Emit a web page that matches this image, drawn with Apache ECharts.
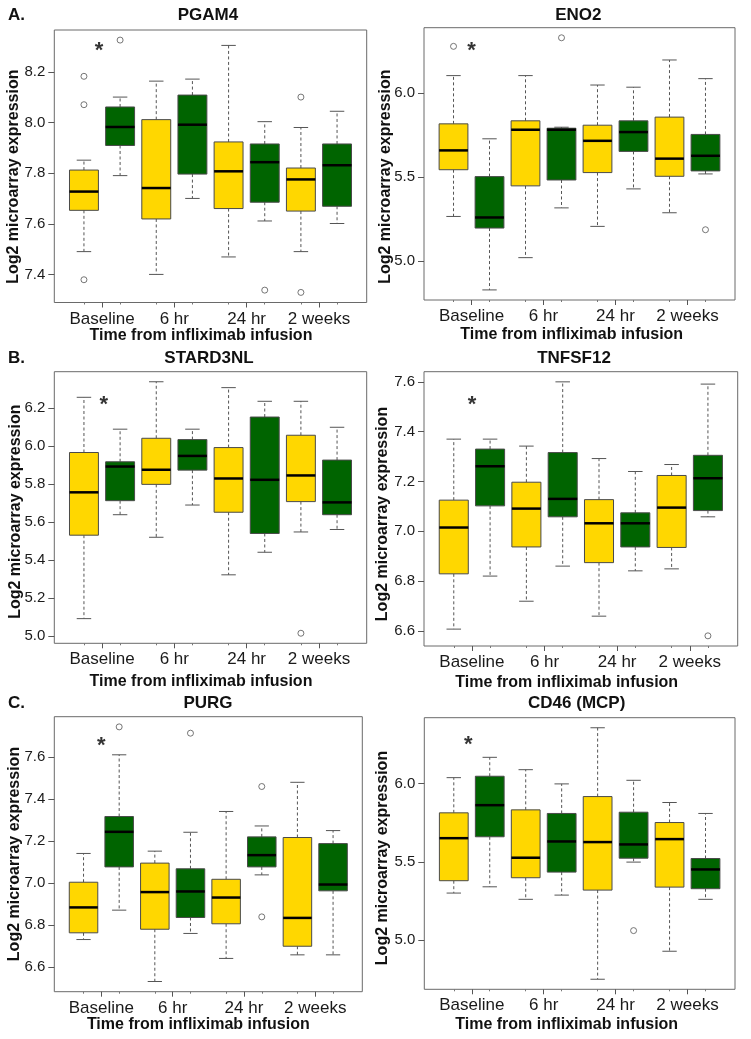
<!DOCTYPE html>
<html><head><meta charset="utf-8">
<script src="https://cdn.jsdelivr.net/npm/echarts@6/dist/echarts.min.js"></script>
<style>html,body{margin:0;padding:0;background:#fff}#c{width:751px;height:1039px}</style>
</head><body><div id="c"></div>
<script>
// ---------- DATA ----------
const timepoints = ['Baseline', '6 hr', '24 hr', '2 weeks'];
const genes = ['PGAM4', 'ENO2', 'STARD3NL', 'TNFSF12', 'PURG', 'CD46 (MCP)'];
const panelLetters = ['A.', '', 'B.', '', 'C.', ''];
const xAxisTitle = 'Time from infliximab infusion';
const yAxisTitle = 'Log2 microarray expression';

// box stats per timepoint: [lower whisker, Q1, median, Q3, upper whisker]
const PGAM4_yellow = [[7.490,7.653,7.727,7.812,7.851],[7.400,7.619,7.741,8.011,8.163],[7.469,7.660,7.807,7.923,8.304],[7.490,7.650,7.775,7.820,7.980]];
const PGAM4_green  = [[7.790,7.909,7.982,8.061,8.100],[7.700,7.796,7.991,8.108,8.171],[7.611,7.685,7.843,7.915,8.003],[7.601,7.669,7.831,7.915,8.044]];
const PGAM4_outliers = [[1,8.182],[1,8.070],[1,7.379],[2,8.325],[6,7.338],[7,8.100],[7,7.329]];
const PGAM4_star = [1.42, 8.30];
const PGAM4_ticks = [7.4, 7.6, 7.8, 8.0, 8.2];

const ENO2_yellow = [[5.267,5.545,5.660,5.818,6.105],[5.022,5.449,5.783,5.836,6.105],[5.208,5.528,5.717,5.810,6.049],[5.289,5.506,5.611,5.858,6.198]];
const ENO2_green  = [[4.830,5.198,5.261,5.504,5.729],[5.318,5.484,5.783,5.792,5.798],[5.431,5.654,5.769,5.836,6.036],[5.520,5.538,5.628,5.755,6.087]];
const ENO2_outliers = [[1,6.279],[4,6.330],[8,5.188]];
const ENO2_star = [1.5, 6.283];
const ENO2_ticks = [5.0, 5.5, 6.0];

const STARD3NL_yellow = [[5.091,5.531,5.757,5.967,6.258],[5.520,5.799,5.876,6.042,6.340],[5.322,5.652,5.830,5.993,6.309],[5.548,5.708,5.846,6.058,6.237]];
const STARD3NL_green  = [[5.639,5.713,5.893,5.918,6.090],[5.690,5.874,5.949,6.035,6.090],[5.441,5.540,5.823,6.154,6.237],[5.561,5.639,5.704,5.927,6.100]];
const STARD3NL_outliers = [[7,5.014]];
const STARD3NL_star = [1.55, 6.244];
const STARD3NL_ticks = [5.0, 5.2, 5.4, 5.6, 5.8, 6.0, 6.2];

const TNFSF12_yellow = [[6.607,6.829,7.015,7.125,7.370],[6.719,6.937,7.091,7.197,7.342],[6.659,6.874,7.032,7.127,7.292],[6.849,6.935,7.095,7.224,7.268]];
const TNFSF12_green  = [[6.820,7.102,7.261,7.330,7.370],[6.860,7.058,7.130,7.316,7.600],[6.841,6.937,7.032,7.074,7.240],[7.058,7.083,7.213,7.305,7.591]];
const TNFSF12_outliers = [[8,6.580]];
const TNFSF12_star = [1.5, 7.526];
const TNFSF12_ticks = [6.6, 6.8, 7.0, 7.2, 7.4, 7.6];

const PURG_yellow = [[6.730,6.762,6.883,7.003,7.140],[6.530,6.779,6.956,7.094,7.151],[6.640,6.805,6.930,7.017,7.340],[6.657,6.698,6.833,7.216,7.479]];
const PURG_green  = [[6.870,7.076,7.243,7.316,7.610],[6.759,6.835,6.959,7.067,7.241],[7.038,7.076,7.132,7.219,7.271],[6.657,6.962,6.992,7.187,7.249]];
const PURG_outliers = [[2,7.743],[4,7.713],[6,7.459],[6,6.838]];
const PURG_star = [1.5, 7.676];
const PURG_ticks = [6.6, 6.8, 7.0, 7.2, 7.4, 7.6];

const CD46_yellow = [[5.300,5.379,5.651,5.813,6.038],[5.260,5.398,5.526,5.832,6.089],[4.749,5.319,5.626,5.917,6.357],[4.928,5.338,5.645,5.751,5.879]];
const CD46_green  = [[5.340,5.660,5.862,6.047,6.168],[5.287,5.434,5.630,5.809,5.998],[5.498,5.523,5.611,5.817,6.021],[5.260,5.328,5.451,5.521,5.809]];
const CD46_outliers = [[6,5.060]];
const CD46_star = [1.4, 6.281];
const CD46_ticks = [5.0, 5.5, 6.0];

// ---------- LAYOUT / STYLE ----------
const panels = [
  {yellow: PGAM4_yellow, green: PGAM4_green, outliers: PGAM4_outliers, star: PGAM4_star, ticks: PGAM4_ticks},
  {yellow: ENO2_yellow, green: ENO2_green, outliers: ENO2_outliers, star: ENO2_star, ticks: ENO2_ticks},
  {yellow: STARD3NL_yellow, green: STARD3NL_green, outliers: STARD3NL_outliers, star: STARD3NL_star, ticks: STARD3NL_ticks},
  {yellow: TNFSF12_yellow, green: TNFSF12_green, outliers: TNFSF12_outliers, star: TNFSF12_star, ticks: TNFSF12_ticks},
  {yellow: PURG_yellow, green: PURG_green, outliers: PURG_outliers, star: PURG_star, ticks: PURG_ticks},
  {yellow: CD46_yellow, green: CD46_green, outliers: CD46_outliers, star: CD46_star, ticks: CD46_ticks}
];
const layout = [
  {frame:[54.3,30,366.7,302.5],    titleX:208,   titleY:15,    xTitle:[201,336],    yTitle:[13.5,176.7]},
  {frame:[424,27.7,735,300],       titleX:578.3, titleY:15,    xTitle:[571.7,335],  yTitle:[386,176.7]},
  {frame:[54.3,371.7,366.7,643.3], titleX:209,   titleY:358.3, xTitle:[201,682],    yTitle:[16,511.7]},
  {frame:[424,371.7,737.7,646],    titleX:574,   titleY:358.3, xTitle:[566.7,682.7],yTitle:[382.5,514]},
  {frame:[54.3,716.7,362.3,991.7], titleX:208,   titleY:703.3, xTitle:[198.3,1025], yTitle:[15,854]},
  {frame:[424.3,717.7,735,989.3],  titleX:576.7, titleY:703.3, xTitle:[566.7,1025], yTitle:[383,858]}
];
const FONT = '"Liberation Sans", Arial, Helvetica, sans-serif';
const YELLOW = '#FFD700';
const GREEN = '#006400';
const X_MIN = 0.18, X_MAX = 8.82;
const LABEL_POS = [1.5, 3.5, 5.5, 7.5];
const BOX_POS = [1, 2, 3, 4, 5, 6, 7, 8];

function renderBox(params, api) {
  const pos = api.value(0);
  const lo = api.value(1), q1 = api.value(2), med = api.value(3), q3 = api.value(4), hi = api.value(5);
  const fill = api.value(6) === 0 ? YELLOW : GREEN;
  const half = api.size([0.4, 0])[0];
  const cap = half / 2;
  const pLo = api.coord([pos, lo]), pQ1 = api.coord([pos, q1]), pMed = api.coord([pos, med]);
  const pQ3 = api.coord([pos, q3]), pHi = api.coord([pos, hi]);
  const x = pLo[0];
  const dash = {stroke:'#555', lineWidth:1, lineDash:[3,2.5]};
  const solid = {stroke:'#555', lineWidth:1};
  return {type:'group', children:[
    {type:'line', shape:{x1:x, y1:pQ3[1], x2:x, y2:pHi[1]}, style:dash},
    {type:'line', shape:{x1:x, y1:pQ1[1], x2:x, y2:pLo[1]}, style:dash},
    {type:'line', shape:{x1:x-cap, y1:pHi[1], x2:x+cap, y2:pHi[1]}, style:solid},
    {type:'line', shape:{x1:x-cap, y1:pLo[1], x2:x+cap, y2:pLo[1]}, style:solid},
    {type:'rect', shape:{x:x-half, y:pQ3[1], width:2*half, height:pQ1[1]-pQ3[1]}, style:{fill:fill, stroke:'#4a4a4a', lineWidth:1}},
    {type:'line', shape:{x1:x-half, y1:pMed[1], x2:x+half, y2:pMed[1]}, style:{stroke:'#000', lineWidth:2.5}}
  ]};
}

const grid = [], xAxis = [], yAxis = [], series = [], graphic = [];
panels.forEach((p, i) => {
  const L = layout[i];
  // y range like R: data range +/- 4%
  const vals = [];
  p.yellow.concat(p.green).forEach(b => vals.push(b[0], b[4]));
  p.outliers.forEach(o => vals.push(o[1]));
  const dmin = Math.min(...vals), dmax = Math.max(...vals);
  const pad = (dmax - dmin) * 0.04;

  grid.push({left:L.frame[0], top:L.frame[1], width:L.frame[2]-L.frame[0], height:L.frame[3]-L.frame[1],
    show:true, borderColor:'#6a6a6a', borderWidth:1, backgroundColor:'transparent', containLabel:false, outerBoundsMode:'none'});

  xAxis.push({type:'value', gridIndex:i, min:X_MIN, max:X_MAX,
    axisLine:{show:false}, splitLine:{show:false},
    axisTick:{show:true, customValues:LABEL_POS, length:5, lineStyle:{color:'#555'}},
    axisLabel:{show:true, customValues:LABEL_POS, margin:8, fontSize:17, fontFamily:FONT, color:'#1a1a1a',
      formatter: v => timepoints[Math.round((v - 1.5) / 2)]}
  });
  xAxis.push({type:'value', gridIndex:i, min:X_MIN, max:X_MAX, position:'bottom',
    axisLine:{show:false}, splitLine:{show:false},
    axisTick:{show:true, customValues:BOX_POS, length:2, lineStyle:{color:'#777'}},
    axisLabel:{show:false}
  });
  yAxis.push({type:'value', gridIndex:i, min:dmin - pad, max:dmax + pad,
    axisLine:{show:false}, splitLine:{show:false},
    axisTick:{show:true, customValues:p.ticks, length:6, lineStyle:{color:'#555'}},
    axisLabel:{show:true, customValues:p.ticks, margin:9, fontSize:15, fontFamily:FONT, color:'#1a1a1a',
      formatter: v => v.toFixed(1)}
  });

  const boxData = [];
  for (let t = 0; t < timepoints.length; t++) {
    boxData.push([2*t+1].concat(p.yellow[t], [0]));
    boxData.push([2*t+2].concat(p.green[t], [1]));
  }
  series.push({type:'custom', xAxisIndex:2*i, yAxisIndex:i, renderItem:renderBox, data:boxData, clip:false,
    encode:{x:0, y:[1,2,3,4,5]}, silent:true});
  series.push({type:'scatter', xAxisIndex:2*i, yAxisIndex:i, data:p.outliers, symbol:'circle', symbolSize:6,
    itemStyle:{color:'#fff', borderColor:'#555', borderWidth:1}, silent:true});
  series.push({type:'scatter', xAxisIndex:2*i, yAxisIndex:i, data:[p.star], symbolSize:1,
    itemStyle:{color:'rgba(0,0,0,0)'}, silent:true,
    label:{show:true, position:'inside', formatter:'*', fontSize:22, fontWeight:'bold', fontFamily:FONT, color:'#000', offset:[0,5]}});

  graphic.push({type:'text', x:L.titleX, y:L.titleY, style:{text:genes[i], font:'bold 17px ' + FONT, fill:'#111', align:'center', verticalAlign:'middle'}});
  if (panelLetters[i]) {
    graphic.push({type:'text', x:8, y:L.titleY, style:{text:panelLetters[i], font:'bold 17px ' + FONT, fill:'#111', align:'left', verticalAlign:'middle'}});
  }
  graphic.push({type:'text', x:L.xTitle[0], y:L.xTitle[1], style:{text:xAxisTitle, font:'bold 16px ' + FONT, fill:'#111', align:'center', verticalAlign:'middle'}});
  graphic.push({type:'text', x:L.yTitle[0], y:L.yTitle[1], rotation:Math.PI/2, style:{text:yAxisTitle, font:'bold 16px ' + FONT, fill:'#111', align:'center', verticalAlign:'middle'}});
});

const chart = echarts.init(document.getElementById('c'), null, {renderer:'canvas'});
chart.setOption({animation:false, backgroundColor:'#fff', grid, xAxis, yAxis, series, graphic});
</script></body></html>
